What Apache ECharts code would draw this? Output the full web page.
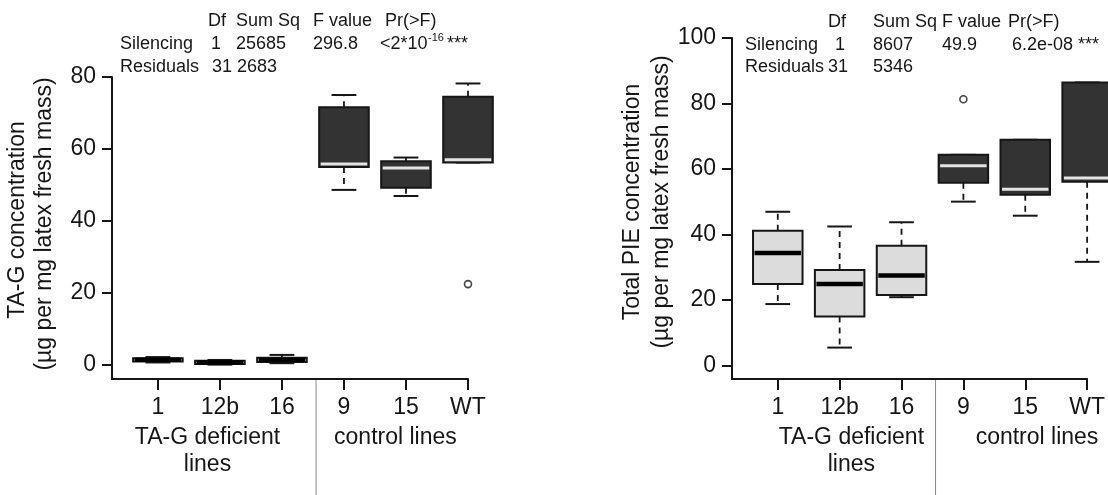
<!DOCTYPE html>
<html><head><meta charset="utf-8">
<script src="https://cdn.jsdelivr.net/npm/echarts@6/dist/echarts.min.js"></script>
<style>html,body{margin:0;padding:0;background:#fff}#c{width:1108px;height:495px}</style>
</head><body><div id="c"></div>
<script>
// ---------- data ----------
const categories = ['1', '12b', '16', '9', '15', 'WT'];
const isControl = [0, 0, 0, 1, 1, 1];
const groupLabels = ['TA-G deficient', 'lines', 'control lines'];

// TA-G concentration (left panel): whisker low, Q1, median, Q3, whisker high
const tagLow    = [0.6, 0.0, 0.4, 48.6, 46.9, 56.2];
const tagQ1     = [0.9, 0.2, 0.7, 55.0, 49.2, 56.2];
const tagMedian = [1.35, 0.6, 1.3, 55.8, 54.7, 57.0];
const tagQ3     = [1.8, 1.1, 1.9, 71.6, 56.6, 74.5];
const tagHigh   = [2.1, 1.3, 2.7, 75.0, 57.6, 78.2];
const tagOutliers = [[6, 22.4]];

// Total PIE concentration (right panel)
const pieLow    = [18.7, 5.4, 20.8, 50.0, 45.7, 31.6];
const pieQ1     = [24.8, 14.9, 21.5, 55.8, 52.1, 56.1];
const pieMedian = [34.3, 24.8, 27.4, 61.0, 53.8, 57.2];
const pieQ3     = [41.1, 29.1, 36.5, 64.3, 68.9, 86.4];
const pieHigh   = [46.9, 42.4, 43.7, 64.3, 68.9, 86.4];
const pieOutliers = [[4, 81.3]];

const tagTicks = [0, 20, 40, 60, 80];
const pieTicks = [0, 20, 40, 60, 80, 100];
const xTicks = [1, 2, 3, 4, 5, 6];

const anovaHeader = ['Df', 'Sum Sq', 'F value', 'Pr(>F)'];
const tagAnova = [['Silencing', '1', '25685', '296.8', '<2*10', '-16', '***'], ['Residuals', '31', '2683']];
const pieAnova = [['Silencing', '1', '8607', '49.9', '6.2e-08 ***'], ['Residuals', '31', '5346']];

const yTitlesTag = ['TA-G concentration', '(µg per mg latex fresh mass)'];
const yTitlesPie = ['Total PIE concentration', '(µg per mg latex fresh mass)'];

// ---------- build ----------
const FONT = '"Liberation Sans", Arial, sans-serif';
const INK = '#161616';
const AX_FS = 23;

function boxData(lo, q1, md, q3, hi) {
  return categories.map((c, i) => [i + 1, lo[i], q1[i], md[i], q3[i], hi[i], isControl[i]]);
}

function renderBox(params, api) {
  const x = api.value(0);
  const ctrl = api.value(6) === 1;
  const pLo = api.coord([x, api.value(1)]);
  const pQ1 = api.coord([x, api.value(2)]);
  const pMd = api.coord([x, api.value(3)]);
  const pQ3 = api.coord([x, api.value(4)]);
  const pHi = api.coord([x, api.value(5)]);
  const bw = api.size([0.8, 0])[0];
  const sw = bw / 2;
  const cx = pMd[0];
  const ch = [];
  const dash = { stroke: INK, lineWidth: 1.8, lineDash: [6, 5] };
  const solid = { stroke: INK, lineWidth: 2 };
  if (pHi[1] < pQ3[1] - 0.5) ch.push({ type: 'line', shape: { x1: cx, y1: pQ3[1], x2: cx, y2: pHi[1] }, style: dash });
  if (pLo[1] > pQ1[1] + 0.5) ch.push({ type: 'line', shape: { x1: cx, y1: pQ1[1], x2: cx, y2: pLo[1] }, style: dash });
  ch.push({ type: 'line', shape: { x1: cx - sw / 2, y1: pHi[1], x2: cx + sw / 2, y2: pHi[1] }, style: solid });
  ch.push({ type: 'line', shape: { x1: cx - sw / 2, y1: pLo[1], x2: cx + sw / 2, y2: pLo[1] }, style: solid });
  ch.push({ type: 'rect', shape: { x: cx - bw / 2, y: pQ3[1], width: bw, height: Math.max(pQ1[1] - pQ3[1], 1) },
            style: { fill: ctrl ? '#333333' : '#dcdcdc', stroke: INK, lineWidth: 2 } });
  ch.push({ type: 'line', shape: { x1: cx - bw / 2 + 1.5, y1: pMd[1], x2: cx + bw / 2 - 1.5, y2: pMd[1] },
            style: { stroke: ctrl ? '#e4e4e4' : '#000', lineWidth: ctrl ? 3 : 4.5 } });
  return { type: 'group', children: ch };
}

function xAxisOpt(gi) {
  return {
    gridIndex: gi, type: 'value', min: 0.26, max: 6,
    axisLine: { show: true, onZero: false, lineStyle: { color: INK, width: 2 } },
    axisTick: { show: true, customValues: xTicks, length: 11, lineStyle: { color: INK, width: 2 } },
    axisLabel: { customValues: xTicks, formatter: v => categories[Math.round(v) - 1] || '', margin: 17,
                 fontSize: AX_FS, color: INK, fontFamily: FONT },
    splitLine: { show: false }
  };
}
function yAxisOpt(gi, min, max, ticks) {
  return {
    gridIndex: gi, type: 'value', min: min, max: max,
    axisLine: { show: true, onZero: false, lineStyle: { color: INK, width: 2 } },
    axisTick: { show: true, customValues: ticks, length: 10, lineStyle: { color: INK, width: 2 } },
    axisLabel: { customValues: ticks, margin: 16, fontSize: AX_FS, color: INK, fontFamily: FONT },
    splitLine: { show: false }
  };
}

const chart = echarts.init(document.getElementById('c'), null, { renderer: 'canvas' });
chart.setOption({
  animation: false,
  backgroundColor: '#fff',
  grid: [
    { left: 112, top: 77, width: 356, height: 302 },
    { left: 732, top: 38, width: 357, height: 341 }
  ],
  xAxis: [xAxisOpt(0), xAxisOpt(1)],
  yAxis: [yAxisOpt(0, -4, 80, tagTicks), yAxisOpt(1, -4.2, 100, pieTicks)],
  series: [
    { type: 'custom', xAxisIndex: 0, yAxisIndex: 0, renderItem: renderBox, clip: false,
      encode: { x: 0, y: [1, 2, 3, 4, 5] }, data: boxData(tagLow, tagQ1, tagMedian, tagQ3, tagHigh), z: 3 },
    { type: 'scatter', xAxisIndex: 0, yAxisIndex: 0, data: tagOutliers, symbol: 'circle', symbolSize: 7,
      itemStyle: { color: '#fff', borderColor: INK, borderWidth: 1.6 }, z: 4 },
    { type: 'custom', xAxisIndex: 1, yAxisIndex: 1, renderItem: renderBox, clip: false,
      encode: { x: 0, y: [1, 2, 3, 4, 5] }, data: boxData(pieLow, pieQ1, pieMedian, pieQ3, pieHigh), z: 3 },
    { type: 'scatter', xAxisIndex: 1, yAxisIndex: 1, data: pieOutliers, symbol: 'circle', symbolSize: 7,
      itemStyle: { color: '#fff', borderColor: INK, borderWidth: 1.6 }, z: 4 }
  ]
});

// ---------- annotations ----------
function txt(s, x, y, size, opts) {
  return Object.assign({ type: 'text', x: x, y: y, z: 10,
    style: Object.assign({ text: s, fontSize: size, fontFamily: FONT, fill: INK, align: 'left', verticalAlign: 'middle' }, (opts && opts.style) || {}) },
    opts && opts.rotation !== undefined ? { rotation: opts.rotation } : {});
}
const g = [];
// left ANOVA table
const lh = [208, 236, 313, 385];
anovaHeader.forEach((h, i) => g.push(txt(h, lh[i], 21, 18)));
const lr1 = [120, 211, 236, 313, 380];
tagAnova[0].slice(0, 5).forEach((s, i) => g.push(txt(s, lr1[i], 44, 18)));
g.push(txt(tagAnova[0][5], 428, 38, 11));
g.push(txt(tagAnova[0][6], 447, 44, 18));
const lr2 = [120, 212, 237];
tagAnova[1].forEach((s, i) => g.push(txt(s, lr2[i], 67, 18)));
// right ANOVA table
const rh = [828, 873, 942, 1008];
anovaHeader.forEach((h, i) => g.push(txt(h, rh[i], 22, 18)));
const rr1 = [745, 835, 873, 942, 1012];
pieAnova[0].forEach((s, i) => g.push(txt(s, rr1[i], 45, 18)));
const rr2 = [745, 828, 873];
pieAnova[1].forEach((s, i) => g.push(txt(s, rr2[i], 67, 18)));

// y titles
const rot = Math.PI / 2;
g.push(txt(yTitlesTag[0], 18, 220, AX_FS, { rotation: rot, style: { align: 'center' } }));
g.push(txt(yTitlesTag[1], 45, 224, AX_FS, { rotation: rot, style: { align: 'center' } }));
g.push(txt(yTitlesPie[0], 633, 202, AX_FS, { rotation: rot, style: { align: 'center' } }));
g.push(txt(yTitlesPie[1], 662, 202, AX_FS, { rotation: rot, style: { align: 'center' } }));

// group labels & separators, anchored on the axes
[0, 1].forEach(gi => {
  const sep = chart.convertToPixel({ xAxisIndex: gi }, 3.55);
  const yAxisPix = chart.convertToPixel({ yAxisIndex: gi }, gi === 0 ? -4 : -4.2);
  g.push({ type: 'line', z: 1, shape: { x1: sep, y1: yAxisPix + 1, x2: sep, y2: 495 },
           style: { stroke: '#8a8a8a', lineWidth: 1 } });
  const defX = chart.convertToPixel({ xAxisIndex: gi }, gi === 0 ? 1.8 : 2.19);
  const ctlX = chart.convertToPixel({ xAxisIndex: gi }, gi === 0 ? 4.83 : 5.19);
  g.push(txt(groupLabels[0], defX, 438, AX_FS, { style: { align: 'center' } }));
  g.push(txt(groupLabels[1], defX, 465, AX_FS, { style: { align: 'center' } }));
  g.push(txt(groupLabels[2], ctlX, 438, AX_FS, { style: { align: 'center' } }));
});
chart.setOption({ graphic: g });
</script></body></html>
